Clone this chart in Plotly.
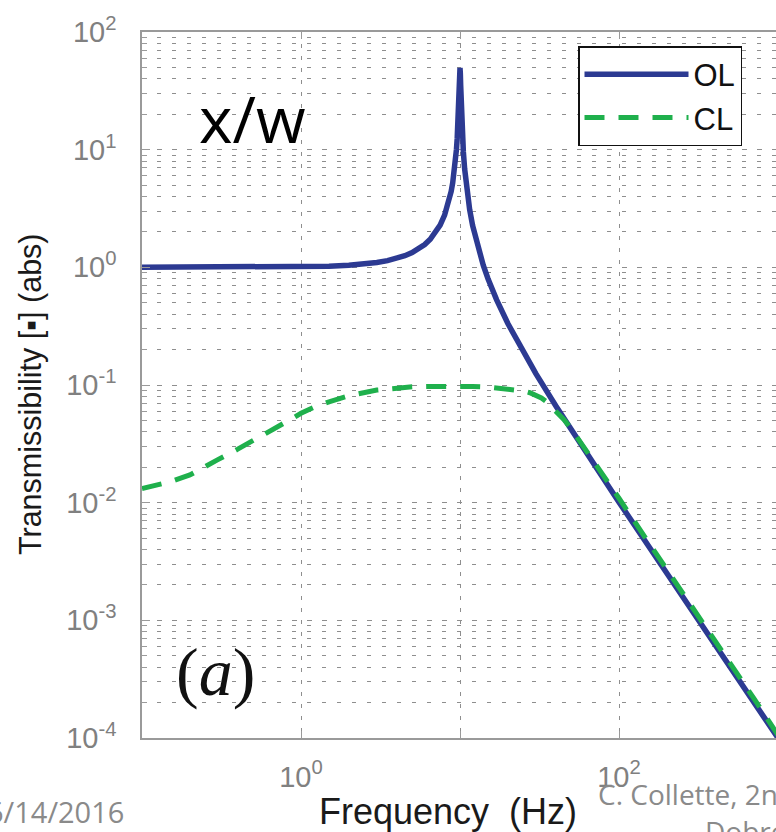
import plotly.graph_objects as go

# ---------------- data ----------------
freq_ol = [0.1, 0.2, 0.5, 1, 1.5, 2, 2.5, 3, 3.5, 4, 4.5, 5, 5.5, 6, 6.5, 7, 7.5, 8, 8.5,
           8.8, 9, 9.1, 9.3, 9.4, 9.5, 9.6, 9.7, 9.8, 9.85, 9.9, 9.95, 10.0, 10.05, 10.1,
           10.15, 10.2, 10.3, 10.4, 10.5, 10.7, 11, 11.5, 12, 13, 14, 15, 17, 20, 25, 30,
           40, 50, 70, 100, 200, 300, 500, 700, 1000]
trans_ol = [1.000, 1.000, 1.003, 1.010, 1.023, 1.042, 1.067, 1.099, 1.140, 1.190, 1.254,
            1.333, 1.434, 1.562, 1.732, 1.960, 2.285, 2.776, 3.60, 4.42, 5.24, 5.78, 7.33,
            8.48, 10.07, 12.39, 16.08, 22.6, 28.0, 35.6, 44.9, 49.5, 44.5, 35.1, 27.5,
            22.1, 15.55, 11.88, 9.56, 6.83, 4.74, 3.10, 2.27, 1.449, 1.042, 0.80, 0.529,
            0.333, 0.190, 0.125, 0.0667, 0.0417, 0.0208, 0.0101, 0.00251, 0.00111,
            0.000400, 0.000204, 0.000100]

freq_cl = [0.1, 0.15, 0.2, 0.25, 0.3, 0.4, 0.5, 0.6, 0.7, 0.85, 1.0, 1.2, 1.5, 2, 3, 4, 5,
           6.5, 8, 10, 12, 15, 17.5, 20, 22, 25, 27.5, 30, 32.5, 35, 40, 45, 50, 60, 70,
           80, 100, 150, 200, 300, 500, 700, 1000]
trans_cl = [0.0132, 0.0150, 0.0172, 0.0200, 0.0232, 0.0285, 0.0335, 0.0385, 0.0430,
            0.0505, 0.0575, 0.0645, 0.0720, 0.0810, 0.0905, 0.0945, 0.0965, 0.0972,
            0.0975, 0.0975, 0.0972, 0.0960, 0.0945, 0.0925, 0.0910, 0.0890, 0.0860,
            0.0820, 0.0775, 0.0720, 0.0610, 0.0510, 0.0425, 0.0300, 0.0220, 0.0168,
            0.0109, 0.00480, 0.00272, 0.00120, 0.000430, 0.000220, 0.000106]

series_names = ["OL", "CL"]

y_tick_vals = [1e-4, 1e-3, 1e-2, 1e-1, 1e0, 1e1, 1e2]
y_tick_text = ["10<sup>-4</sup>", "10<sup>-3</sup>", "10<sup>-2</sup>", "10<sup>-1</sup>",
               "10<sup>0</sup>", "10<sup>1</sup>", "10<sup>2</sup>"]
x_tick_vals = [0.1, 1, 10, 100, 1000]
x_tick_text = ["", "10<sup>0</sup>", "", "10<sup>2</sup>", ""]

# ---------------- layout helpers ----------------
W, H = 776, 832
L, T, R, B = 142, 32, 0, 94
PW, PH = W - L - R, H - T - B


def px(x):
    return (x - L) / PW


def py(y):
    return (H - B - y) / PH


minor_y = [m * 10.0 ** e for e in range(-4, 2) for m in range(2, 10)]

BLUE = "#2c3a92"
GREEN = "#1fb04c"
GRID = "#8e8e8e"
SPINE = "#9a9a9a"
TICKC = "#808080"
SANS = "Liberation Sans, Arial, sans-serif"

fig = go.Figure()
fig.add_trace(go.Scatter(x=freq_ol, y=trans_ol, mode="lines", name=series_names[0],
                         line=dict(color=BLUE, width=5.5)))
fig.add_trace(go.Scatter(x=freq_cl, y=trans_cl, mode="lines", name=series_names[1],
                         line=dict(color=GREEN, width=5, dash="20px,14px")))

fig.update_layout(
    width=W, height=H, autosize=False,
    margin=dict(l=L, r=R, t=T, b=B, pad=0),
    paper_bgcolor="white", plot_bgcolor="white",
    font=dict(family=SANS, color="#1a1a1a"),
    showlegend=True,
    legend=dict(x=px(578), y=py(46), xanchor="left", yanchor="top",
                bgcolor="white", bordercolor="#111111", borderwidth=1.5,
                font=dict(size=31, color="#111111", family=SANS),
                itemwidth=104, tracegroupgap=0),
)

fig.update_xaxes(
    type="log", range=[-1, -1 + PW / 159.0],
    tickmode="array", tickvals=x_tick_vals, ticktext=x_tick_text,
    ticks="inside", ticklen=7, tickcolor=SPINE, tickwidth=1,
    tickfont=dict(size=29, color=TICKC, family=SANS),
    ticklabelstandoff=12,
    showline=True, linecolor=SPINE, linewidth=1.5, mirror="ticks",
    showgrid=True, gridcolor=GRID, gridwidth=1, griddash="4px,8px",
    zeroline=False,
)
fig.update_yaxes(
    type="log", range=[-4, 2],
    tickmode="array", tickvals=y_tick_vals, ticktext=y_tick_text,
    ticks="inside", ticklen=8, tickcolor=SPINE, tickwidth=1,
    tickfont=dict(size=29, color=TICKC, family=SANS),
    ticklabelstandoff=18,
    showline=True, linecolor=SPINE, linewidth=1.5, mirror=False,
    showgrid=True, gridcolor=GRID, gridwidth=1, griddash="5px,10px",
    minor=dict(tickmode="array", tickvals=minor_y, ticks="inside", ticklen=5,
               tickcolor=SPINE, showgrid=True, gridcolor=GRID, gridwidth=1,
               griddash="4px,11px"),
    zeroline=False,
)

ann = []
# axis titles
ann.append(dict(text="Transmissibility [\u25aa] (abs)", x=px(30), y=py(394), xref="paper",
                yref="paper", textangle=-90, showarrow=False, xanchor="center",
                yanchor="middle", font=dict(size=30.5, color="#1a1a1a", family=SANS)))
ann.append(dict(text="Frequency\u00a0\u00a0(Hz)", x=px(448), y=py(811), xref="paper",
                yref="paper", showarrow=False, xanchor="center", yanchor="middle",
                font=dict(size=36, color="#1a1a1a", family=SANS)))
# labels inside the plot
ann.append(dict(text="x/w", x=px(252), y=py(118), xref="paper", yref="paper",
                showarrow=False, xanchor="center", yanchor="middle",
                font=dict(size=64, color="#000000", family="Open Sans, sans-serif")))
ann.append(dict(text="(<i>a</i>)", x=px(215), y=py(672), xref="paper", yref="paper",
                showarrow=False, xanchor="center", yanchor="middle",
                font=dict(size=68, color="#111111", family="Liberation Serif, serif")))
# slide footer text
ann.append(dict(text="6/14/2016", x=px(126), y=py(811), xref="paper", yref="paper",
                showarrow=False, xanchor="right", yanchor="middle",
                font=dict(size=29, color="#8a8a8a", family="Open Sans, sans-serif")))
ann.append(dict(text="C. Collette, 2nd", x=px(596), y=py(794), xref="paper", yref="paper",
                showarrow=False, xanchor="left", yanchor="middle",
                font=dict(size=28, color="#8a8a8a", family="Open Sans, sans-serif")))
ann.append(dict(text="Dobre", x=px(703), y=py(831), xref="paper", yref="paper",
                showarrow=False, xanchor="left", yanchor="middle",
                font=dict(size=28, color="#8a8a8a", family="Open Sans, sans-serif")))
fig.update_layout(annotations=ann)

fig.write_html("out.html", config={"displayModeBar": False},
               post_script="document.body.style.margin='0';document.body.style.overflow='hidden';")
